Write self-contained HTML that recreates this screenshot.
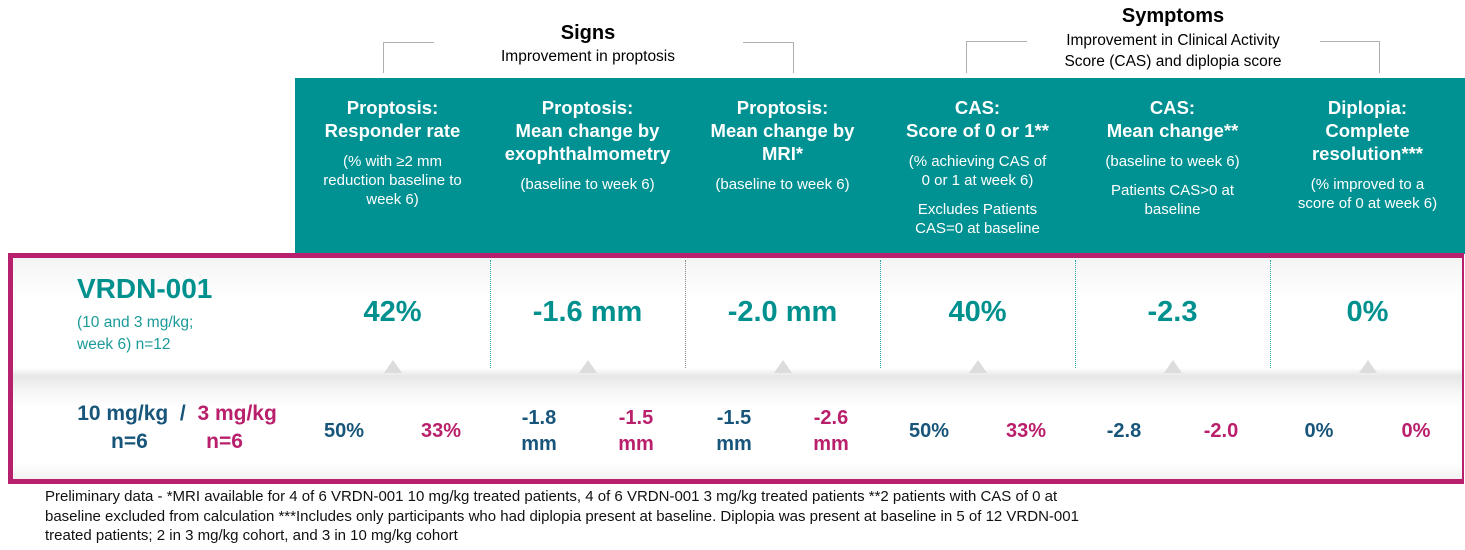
<!DOCTYPE html>
<html><head><meta charset="utf-8">
<style>
body{margin:0;width:1465px;height:550px;background:#fff;font-family:"Liberation Sans",Arial,sans-serif;position:relative;overflow:hidden}
.a{position:absolute}
.br{position:absolute;border:1px solid #b0b0b0;border-bottom:none}
.hd{position:absolute;top:78px;height:176px;background:#009193}
.col{position:absolute;top:96px;width:195px;text-align:center;color:#fff}
.t{font-size:18.5px;font-weight:bold;line-height:23px}
.s{font-size:15px;line-height:19px;margin-top:10px}
.s2{font-size:15px;line-height:19px;margin-top:10px}
.mv{position:absolute;top:296px;width:195px;text-align:center;color:#00918f;font-size:29px;font-weight:bold}
.sv{position:absolute;width:100px;text-align:center;font-size:20px;font-weight:bold;line-height:26px}
.blue{color:#18557a}.pink{color:#b91f6b}
.sep{position:absolute;top:260px;height:108px;border-left:1px dotted #2aa6a6}
.tri{position:absolute;top:360px;width:0;height:0;border-left:9px solid transparent;border-right:9px solid transparent;border-bottom:13px solid #dcdcdc}
.fn{position:absolute;left:45px;font-size:15px;color:#111;white-space:nowrap}
</style></head><body>
<div class="br" style="left:383px;top:42px;width:50px;height:30px;border-right:none"></div>
<div class="br" style="left:743px;top:42px;width:50px;height:30px;border-left:none"></div>
<div class="a" style="left:388px;top:22px;width:400px;text-align:center;font-size:20px;font-weight:bold">Signs</div>
<div class="a" style="left:388px;top:48px;width:400px;text-align:center;font-size:15.5px">Improvement in proptosis</div>
<div class="br" style="left:966px;top:41px;width:60px;height:31px;border-right:none"></div>
<div class="br" style="left:1320px;top:41px;width:59px;height:31px;border-left:none"></div>
<div class="a" style="left:973px;top:5px;width:400px;text-align:center;font-size:20px;font-weight:bold">Symptoms</div>
<div class="a" style="left:973px;top:30px;width:400px;text-align:center;font-size:15.5px;line-height:21px">Improvement in Clinical Activity<br>Score (CAS) and diplopia score</div>

<div class="hd" style="left:295px;width:1170px"></div>
<div class="col" style="left:295px"><div class="t">Proptosis:<br>Responder rate</div><div class="s">(% with ≥2 mm<br>reduction baseline to<br>week 6)</div></div>
<div class="col" style="left:490px"><div class="t">Proptosis:<br>Mean change by<br>exophthalmometry</div><div class="s">(baseline to week 6)</div></div>
<div class="col" style="left:685px"><div class="t">Proptosis:<br>Mean change by<br>MRI*</div><div class="s">(baseline to week 6)</div></div>
<div class="col" style="left:880px"><div class="t">CAS:<br>Score of 0 or 1**</div><div class="s">(% achieving CAS of<br>0 or 1 at week 6)</div><div class="s2">Excludes Patients<br>CAS=0 at baseline</div></div>
<div class="col" style="left:1075px"><div class="t">CAS:<br>Mean change**</div><div class="s">(baseline to week 6)</div><div class="s2">Patients CAS&gt;0 at<br>baseline</div></div>
<div class="col" style="left:1270px"><div class="t">Diplopia:<br>Complete<br>resolution***</div><div class="s">(% improved to a<br>score of 0 at week 6)</div></div>

<div class="a" style="left:8px;top:253px;width:1449px;height:221px;border:5px solid #b7206d;border-right:2px solid #b7206d;box-sizing:content-box;background:linear-gradient(#f4f4f4,#fff 40px,#fff 110px,#e6e6e6 118px,#f7f7f7 135px,#fff 150px,#fff 205px,#f2f2f2)"></div>
<div class="a" style="left:77px;top:273px;font-size:28px;font-weight:bold;color:#00918f">VRDN-001</div>
<div class="a" style="left:77px;top:312px;font-size:15.5px;line-height:22px;color:#1a9a98">(10 and 3 mg/kg;<br>week 6) n=12</div>
<div class="a" style="left:57px;top:400px;width:240px;text-align:center;font-size:21px;font-weight:bold;line-height:28px"><span class="blue">10 mg/kg</span> <span class="blue">&nbsp;/&nbsp;</span> <span class="pink">3 mg/kg</span><br><span class="blue">n=6</span>&nbsp;&nbsp;&nbsp;&nbsp;&nbsp;&nbsp;&nbsp;&nbsp;&nbsp;&nbsp;<span class="pink">n=6</span></div>

<div class="fn" style="top:488px">Preliminary data - *MRI available for 4 of 6 VRDN-001 10 mg/kg treated patients, 4 of 6 VRDN-001 3 mg/kg treated patients **2 patients with CAS of 0 at</div>
<div class="fn" style="top:508px">baseline excluded from calculation ***Includes only participants who had diplopia present at baseline. Diplopia was present at baseline in 5 of 12 VRDN-001</div>
<div class="fn" style="top:527px">treated patients; 2 in 3 mg/kg cohort, and 3 in 10 mg/kg cohort</div>

<script>
const mainValues = ["42%", "-1.6 mm", "-2.0 mm", "40%", "-2.3", "0%"];
const highDose = ["50%", "-1.8|mm", "-1.5|mm", "50%", "-2.8", "0%"];
const lowDose = ["33%", "-1.5|mm", "-2.6|mm", "33%", "-2.0", "0%"];
const x0 = 295, cw = 195;
function colX(i){return x0 + i*cw;}
mainValues.forEach((v,i)=>{
  const d=document.createElement('div');d.className='mv';d.style.left=colX(i)+'px';d.textContent=v;
  
  
  document.body.appendChild(d);
  const t=document.createElement('div');t.className='tri';t.style.left=(colX(i)+cw/2-9)+'px';
  
  
  document.body.appendChild(t);
  if(i>0){const s=document.createElement('div');s.className='sep';s.style.left=colX(i)+'px';
    if(i===2)s.style.borderLeftColor='#888';
    
    
    document.body.appendChild(s);}
});
function sub(v,i,off,cls,name){
  const d=document.createElement('div');d.className='sv '+cls;
  const two=v.indexOf('|')>=0;
  d.innerHTML=v.split('|').join('<br>');
  d.style.left=(colX(i)+off-50)+'px';
  d.style.top=(two?405:418)+'px';
  
  
  document.body.appendChild(d);
}
highDose.forEach((v,i)=>sub(v,i,49,'blue','high-dose-value'));
lowDose.forEach((v,i)=>sub(v,i,146,'pink','low-dose-value'));
</script>
</body></html>
